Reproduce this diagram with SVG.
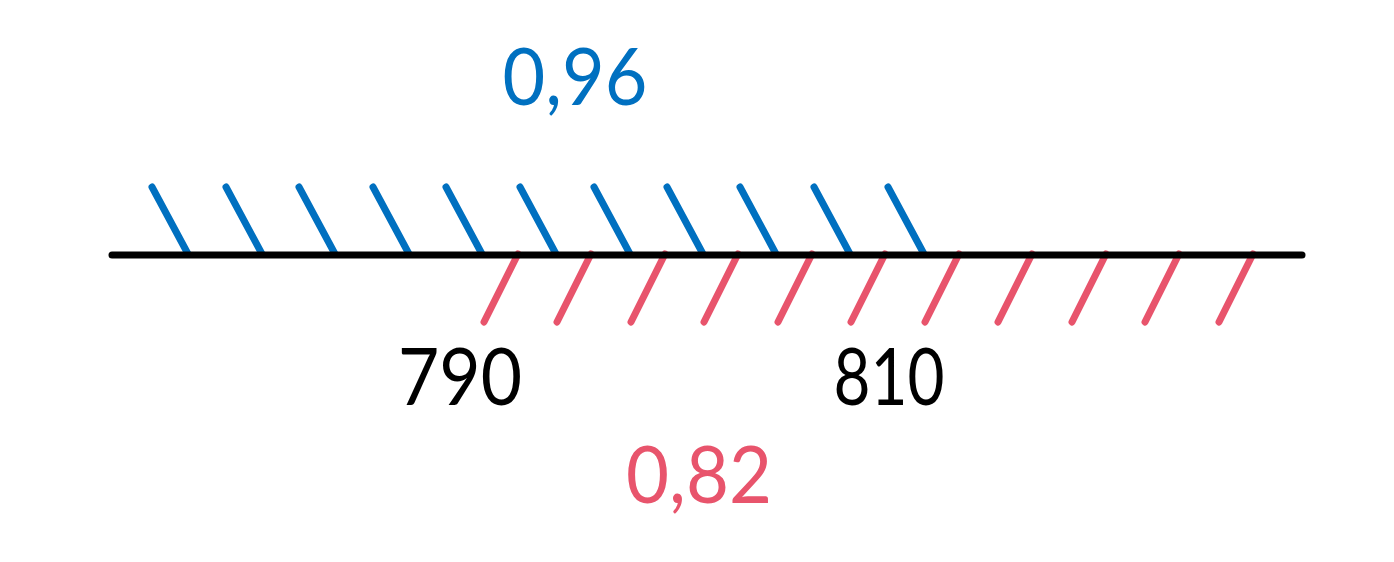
<svg xmlns="http://www.w3.org/2000/svg" width="1394" height="562" viewBox="0 0 1394 562">
<style>
.bh{stroke:#0070c0;stroke-width:7;stroke-linecap:round;fill:none}
.rh{stroke:#e8546c;stroke-width:7;stroke-linecap:round;fill:none}
.ax{stroke:#000;stroke-width:7;stroke-linecap:round}
text{font-family:"Lato","Noto Sans","Liberation Sans",sans-serif;font-size:80px;font-weight:400;text-anchor:middle}
</style>
<rect width="1394" height="562" fill="#fff"/>
<g id="hatch-blue">
<path class="bh" d="M152,187 L188,254 M226,187 L262,254 M299,187 L335,254 M373,187 L409,254 M446,187 L482,254 M520,187 L556,254 M594,187 L630,254 M667,187 L703,254 M740,187 L776,254 M814,187 L850,254 M888,187 L924,254"/>
</g>
<g id="hatch-red">
<path class="rh" d="M518,254 L484,322 M591,254 L557,322 M665,254 L631,322 M738,254 L704,322 M812,254 L778,322 M885,254 L851,322 M959,254 L925,322 M1032,254 L998,322 M1106,254 L1072,322 M1179,254 L1145,322 M1253,254 L1219,322"/>
</g>
<g id="axis">
<line class="ax" x1="112" y1="255" x2="1302" y2="255"/>
</g>
<g id="labels">
<text x="575" y="105" fill="#0070c0" textLength="145" lengthAdjust="spacingAndGlyphs">0,96</text>
<text x="460" y="405" fill="#000" textLength="124" lengthAdjust="spacingAndGlyphs">790</text>
<text x="889" y="405" fill="#000" textLength="111" lengthAdjust="spacingAndGlyphs">810</text>
<text x="699" y="503" fill="#e8546c" textLength="146" lengthAdjust="spacingAndGlyphs">0,82</text>
</g>
</svg>
